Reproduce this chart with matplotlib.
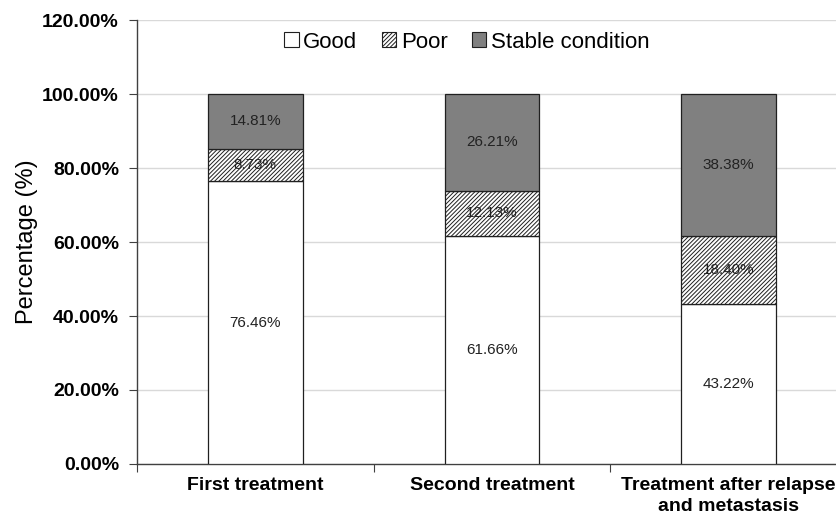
import matplotlib
matplotlib.use("Agg")
import matplotlib.pyplot as plt
from matplotlib.ticker import FuncFormatter
from matplotlib.patches import Patch

plt.rcParams['font.family'] = ['Liberation Sans', 'DejaVu Sans']
plt.rcParams['hatch.color'] = '#404040'
plt.rcParams['hatch.linewidth'] = 0.7

categories = ["First treatment", "Second treatment", "Treatment after relapse\nand metastasis"]
good = [76.46, 61.66, 43.22]
poor = [8.73, 12.13, 18.40]
stable = [14.81, 26.21, 38.38]
yticks = [0, 20, 40, 60, 80, 100, 120]

fig = plt.figure(figsize=(8.37, 5.17), dpi=100)
# axes run past the right edge of the canvas
ax = fig.add_axes([137 / 837, 1 - 464 / 517, 710 / 837, 444 / 517])

x = list(range(len(categories)))
w = 0.4
edge = '#202020'
hatch = '////////'
ax.bar(x, good, w, color='white', edgecolor=edge, linewidth=0.9, label='Good', zorder=3)
ax.bar(x, poor, w, bottom=good, color='white', edgecolor=edge, linewidth=0.9,
       hatch=hatch, label='Poor', zorder=3)
bottom2 = [g + p for g, p in zip(good, poor)]
ax.bar(x, stable, w, bottom=bottom2, color='#808080', edgecolor=edge, linewidth=0.9,
       label='Stable condition', zorder=3)

# segment labels
for i in x:
    ax.text(i, good[i] / 2, f"{good[i]:.2f}%", ha='center', va='center', fontsize=11, color='#222222', zorder=4)
    ax.text(i, good[i] + poor[i] / 2, f"{poor[i]:.2f}%", ha='center', va='center', fontsize=11, color='#222222', zorder=4)
    ax.text(i, bottom2[i] + stable[i] / 2, f"{stable[i]:.2f}%", ha='center', va='center', fontsize=11, color='#222222', zorder=4)

ax.set_xlim(-0.5, len(categories) - 0.5)
ax.set_ylim(0, 120)
ax.set_yticks(yticks)
ax.yaxis.set_major_formatter(FuncFormatter(lambda v, p: f"{v:.2f}%"))
ax.yaxis.grid(True, color='#d9d9d9', linewidth=1.0, zorder=0)
ax.set_axisbelow(True)

ax.set_xticks([-0.5, 0.5, 1.5, 2.5])
ax.set_xticklabels([])
ax.tick_params(axis='x', which='major', length=6, color='#404040')
ax.tick_params(axis='y', length=6, color='#404040', labelsize=14, pad=7)
for lab in ax.get_yticklabels():
    lab.set_fontweight('bold')

# category names centred under each bar
for i, name in enumerate(categories):
    ax.annotate(name, xy=(i, 0), xycoords=('data', 'axes fraction'),
                xytext=(0, -9.5), textcoords='offset points', ha='center', va='top',
                fontsize=14, fontweight='bold', linespacing=1.3, annotation_clip=False)

for s in ['top', 'right']:
    ax.spines[s].set_visible(False)
for s in ['left', 'bottom']:
    ax.spines[s].set_color('#404040')
    ax.spines[s].set_linewidth(1.0)

ax.set_ylabel("Percentage (%)", fontsize=17, labelpad=3)

handles = [
    Patch(facecolor='white', edgecolor=edge, linewidth=0.8, label='Good'),
    Patch(facecolor='white', edgecolor=edge, linewidth=0.8, hatch=hatch, label='Poor'),
    Patch(facecolor='#808080', edgecolor=edge, linewidth=0.8, label='Stable condition'),
]
fig.legend(handles=handles, loc='center', bbox_to_anchor=(467 / 837, 1 - 42 / 517), ncol=3,
           frameon=False, fontsize=16, handlelength=0.65, handleheight=0.65,
           handletextpad=0.2, columnspacing=1.1)

fig.savefig("out.png", dpi=100)
